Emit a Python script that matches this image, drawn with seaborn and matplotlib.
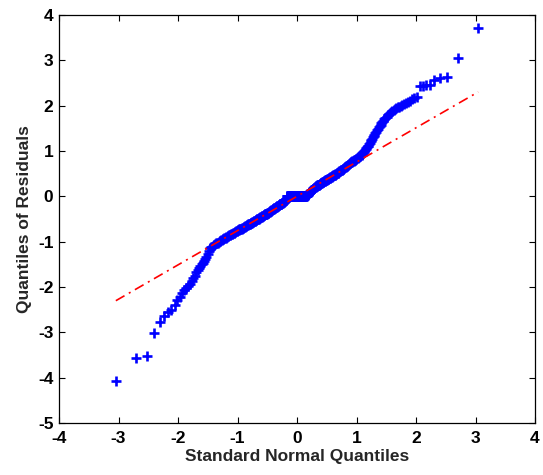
import numpy as np
import pandas as pd
import matplotlib
matplotlib.use("Agg")
import matplotlib.pyplot as plt
import seaborn as sns
from statistics import NormalDist

# sorted residuals (430 points)
residuals = (
    [-4.08, -3.56, -3.52, -3.02, -2.77, -2.65, -2.55, -2.50, -2.40, -2.28,
     -2.22, -2.14, -2.07, -2.02, -1.98, -1.93, -1.86, -1.80, -1.75, -1.66,
     -1.62, -1.58, -1.54, -1.50, -1.46, -1.42, -1.38, -1.34, -1.27, -1.20,
     -1.14, -1.12, -1.11, -1.09, -1.08]
    + [-1.07, -1.06, -1.04, -1.03, -1.02, -1.00, -0.99]
    + [-0.98, -0.97, -0.96, -0.95, -0.94, -0.93, -0.92, -0.91]
    + [-0.90, -0.89, -0.88, -0.87, -0.86, -0.86, -0.85, -0.84, -0.83]
    + [-0.82, -0.81, -0.80, -0.80, -0.79, -0.78, -0.77, -0.77, -0.76, -0.75]
    + [-0.74, -0.74, -0.73, -0.72, -0.72, -0.71, -0.71, -0.70, -0.69, -0.69, -0.68]
    + [-0.67, -0.67, -0.66, -0.66, -0.65, -0.64, -0.64, -0.63, -0.62, -0.62, -0.61, -0.60]
    + [-0.60, -0.59, -0.59, -0.58, -0.58, -0.57, -0.56, -0.56, -0.55, -0.55, -0.54, -0.54, -0.53]
    + [-0.52, -0.52, -0.51, -0.51, -0.50, -0.49, -0.49, -0.48, -0.48, -0.47, -0.46, -0.46, -0.45]
    + [-0.45, -0.44, -0.44, -0.43, -0.43, -0.42, -0.42, -0.41, -0.40, -0.40, -0.39, -0.39,
       -0.38, -0.38, -0.37]
    + [-0.37, -0.36, -0.36, -0.35, -0.35, -0.34, -0.33, -0.33, -0.32, -0.32, -0.31, -0.30,
       -0.30, -0.29, -0.28, -0.27]
    + [-0.27, -0.26, -0.26, -0.25, -0.25, -0.24, -0.24, -0.23, -0.23, -0.22, -0.22, -0.21,
       -0.21, -0.20, -0.20, -0.19]
    + [-0.18, -0.18, -0.17, -0.17, -0.16, -0.16, -0.15, -0.15, -0.14, -0.14, -0.13, -0.13,
       -0.12, -0.11, -0.11, -0.10]
    + [-0.09, -0.08, -0.07, -0.07, -0.06]
    + [0.0] * 57
    + [0.02, 0.03, 0.04, 0.05, 0.06, 0.07, 0.08]
    + [0.09, 0.10, 0.10, 0.11, 0.12, 0.13, 0.13, 0.14, 0.15, 0.16, 0.16, 0.17, 0.18, 0.19,
       0.19, 0.20]
    + [0.21, 0.21, 0.22, 0.22, 0.23, 0.23, 0.24, 0.24, 0.25, 0.25, 0.26, 0.26, 0.27, 0.27,
       0.28, 0.29]
    + [0.29, 0.30, 0.30, 0.31, 0.31, 0.32, 0.32, 0.33, 0.33, 0.34, 0.34, 0.35, 0.35, 0.36,
       0.36, 0.37]
    + [0.38, 0.38, 0.39, 0.39, 0.40, 0.40, 0.41, 0.41, 0.42, 0.42, 0.43, 0.43, 0.44, 0.44, 0.45]
    + [0.46, 0.46, 0.47, 0.48, 0.48, 0.49, 0.49, 0.50, 0.51, 0.51, 0.52, 0.52, 0.53]
    + [0.54, 0.55, 0.55, 0.56, 0.57, 0.58, 0.58, 0.59, 0.60, 0.61, 0.61, 0.62, 0.63]
    + [0.64, 0.65, 0.65, 0.66, 0.67, 0.68, 0.69, 0.70, 0.71, 0.72, 0.73, 0.74]
    + [0.75, 0.76, 0.76, 0.77, 0.78, 0.79, 0.80, 0.80, 0.81, 0.82, 0.83]
    + [0.84, 0.85, 0.86, 0.87, 0.88, 0.89, 0.90, 0.91, 0.92, 0.94]
    + [0.96, 0.98, 1.00, 1.02, 1.04, 1.06, 1.08, 1.10, 1.12]
    + [1.15, 1.18, 1.21, 1.24, 1.27, 1.30, 1.33, 1.36]
    + [1.40, 1.43, 1.46, 1.49, 1.52, 1.55, 1.58]
    + [1.61, 1.64, 1.67, 1.70, 1.73, 1.76]
    + [1.79, 1.82, 1.84, 1.86, 1.88]
    + [1.90, 1.92, 1.94, 1.96]
    + [1.98, 2.00, 2.02, 2.04]
    + [2.06, 2.08, 2.11, 2.14, 2.17]
    + [2.20]
    + [2.43, 2.44, 2.45, 2.45]
    + [2.56, 2.60, 2.63, 3.06, 3.72]
)

x_ticks = [-4, -3, -2, -1, 0, 1, 2, 3, 4]
y_ticks = [-5, -4, -3, -2, -1, 0, 1, 2, 3, 4]

# qq plot: theoretical normal quantiles at (i-0.5)/n
y = np.sort(np.array(residuals))
n = len(y)
nd = NormalDist()
x = np.array([nd.inv_cdf((i - 0.5) / n) for i in range(1, n + 1)])
df = pd.DataFrame({"x": x, "y": y})

# reference line through the 1st and 3rd quartiles
q1, q3 = np.percentile(y, [25, 75])
z1, z3 = nd.inv_cdf(0.25), nd.inv_cdf(0.75)
slope = (q3 - q1) / (z3 - z1)
icpt = q1 - slope * z1
line = pd.DataFrame({"x": [x.min(), x.max()]})
line["y"] = icpt + slope * line["x"]

sns.set_style("ticks")
plt.rcParams['font.family'] = ['Liberation Sans', 'DejaVu Sans']
plt.rcParams['font.weight'] = 'bold'
plt.rcParams['axes.unicode_minus'] = False

fig = plt.figure(figsize=(5.43, 4.75), dpi=100)
ax = fig.add_axes([0.1087, 0.1095, 0.8766, 0.8589])

sns.scatterplot(data=df, x="x", y="y", marker="+", s=62, color=(0, 0, 1),
                linewidth=1.9, ax=ax, zorder=2)
sns.lineplot(data=line, x="x", y="y", color=(1, 0, 0), linewidth=1.2,
             dashes=False, ax=ax, zorder=3)
ax.lines[-1].set_dashes((6, 3, 1.2, 3))

ax.set_xlim(-4, 4)
ax.set_ylim(-5, 4)
ax.set_xticks(x_ticks)
ax.set_yticks(y_ticks)
ax.tick_params(direction="in", length=4, width=0.8, top=True, right=True,
               labelsize=12.5, colors="black")
ax.tick_params(axis="x", pad=6)
ax.tick_params(axis="y", pad=4)
for sp in ax.spines.values():
    sp.set_visible(True)
    sp.set_linewidth(0.9)
    sp.set_color("black")
ax.set_xlabel("Standard Normal Quantiles", fontsize=12.5, fontweight="bold", labelpad=2)
ax.set_ylabel("Quantiles of Residuals", fontsize=12.5, fontweight="bold", labelpad=4)

fig.savefig("out.png", dpi=100)
